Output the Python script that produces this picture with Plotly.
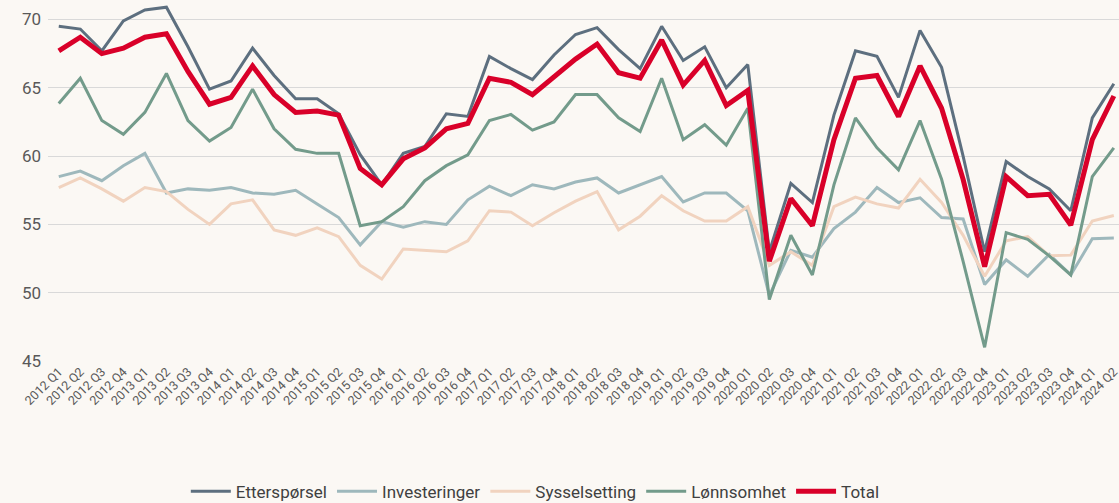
import plotly.graph_objects as go

quarters = [f"{y} Q{q}" for y in range(2012, 2025) for q in range(1, 5)][:50]

ettersporsel = [69.5, 69.3, 67.7, 69.9, 70.7, 70.9, 68.0, 64.9, 65.5, 67.9,
                65.9, 64.2, 64.2, 63.1, 60.1, 57.9, 60.2, 60.7, 63.1, 62.9,
                67.3, 66.4, 65.6, 67.4, 68.9, 69.4, 67.8, 66.4, 69.5, 67.0,
                68.0, 65.0, 66.7, 53.0, 58.0, 56.6, 63.0, 67.7, 67.3, 64.3,
                69.2, 66.5, 60.0, 53.0, 59.6, 58.5, 57.6, 56.0, 62.8, 65.3]
investeringer = [58.5, 58.9, 58.2, 59.3, 60.2, 57.3, 57.6, 57.5, 57.7, 57.3,
                 57.2, 57.5, 56.5, 55.5, 53.5, 55.2, 54.8, 55.2, 55.0, 56.8,
                 57.8, 57.1, 57.9, 57.6, 58.1, 58.4, 57.3, 57.9, 58.5, 56.65,
                 57.3, 57.3, 56.0, 49.8, 53.1, 52.6, 54.7, 55.9, 57.7, 56.6,
                 56.95, 55.5, 55.4, 50.6, 52.4, 51.2, 52.8, 51.3, 53.95, 54.0]
sysselsetting = [57.7, 58.4, 57.6, 56.7, 57.7, 57.4, 56.1, 55.0, 56.5, 56.8,
                 54.6, 54.2, 54.75, 54.1, 52.0, 51.0, 53.2, 53.1, 53.0, 53.8,
                 56.0, 55.9, 54.9, 55.85, 56.7, 57.4, 54.6, 55.6, 57.1, 56.0,
                 55.25, 55.25, 56.3, 52.0, 53.0, 52.0, 56.3, 57.0, 56.5, 56.2,
                 58.3, 56.6, 54.2, 51.2, 53.8, 54.1, 52.7, 52.75, 55.25, 55.65]
lonnsomhet = [63.85, 65.7, 62.6, 61.6, 63.2, 66.05, 62.6, 61.1, 62.1, 64.9,
              62.0, 60.5, 60.2, 60.2, 54.9, 55.2, 56.3, 58.2, 59.3, 60.1,
              62.6, 63.05, 61.9, 62.5, 64.5, 64.5, 62.8, 61.8, 65.7, 61.2,
              62.3, 60.8, 63.5, 49.5, 54.2, 51.3, 57.9, 62.8, 60.6, 59.0,
              62.6, 58.3, 52.3, 46.0, 54.4, 53.9, 52.7, 51.3, 58.5, 60.6]
total = [67.7, 68.7, 67.5, 67.9, 68.7, 68.95, 66.2, 63.8, 64.3, 66.6,
         64.5, 63.2, 63.3, 63.0, 59.1, 57.9, 59.8, 60.6, 62.0, 62.4,
         65.7, 65.4, 64.5, 65.85, 67.1, 68.2, 66.1, 65.7, 68.5, 65.2,
         67.0, 63.7, 64.8, 52.3, 56.9, 54.9, 61.2, 65.7, 65.9, 62.9,
         66.6, 63.5, 58.3, 51.9, 58.5, 57.1, 57.2, 54.95, 61.2, 64.4]

series = [
    ("Etterspørsel", ettersporsel, "#5D6F7F", 3),
    ("Investeringer", investeringer, "#9EB8BC", 3),
    ("Sysselsetting", sysselsetting, "#F1D3BF", 3),
    ("Lønnsomhet", lonnsomhet, "#739B8B", 3),
    ("Total", total, "#D90029", 5),
]

x = list(range(len(quarters)))
fig = go.Figure()
for name, vals, color, w in series:
    fig.add_trace(go.Scatter(x=x, y=vals, name=name, mode="lines",
                             line=dict(color=color, width=w)))

font_family = "Liberation Sans Narrow, Roboto, Liberation Sans, sans-serif"
fig.update_layout(
    width=1119, height=503,
    paper_bgcolor="#FBF8F4", plot_bgcolor="#FBF8F4",
    margin=dict(l=48, r=0, t=2, b=142, autoexpand=False),
    font=dict(family=font_family, color="#595959"),
    showlegend=True,
    legend=dict(orientation="h", x=0.455, xanchor="center", y=-0.364, yanchor="middle",
                font=dict(size=17, color="#404040"), itemwidth=40,
                bgcolor="rgba(0,0,0,0)"),
    xaxis=dict(range=[-0.5, 49.24], tickvals=x, ticktext=quarters, tickangle=-45,
               tickfont=dict(size=12.5, color="#595959"), showgrid=False,
               zeroline=False, showline=False, ticks="", automargin=False,
               ticklabeloverflow="allow"),
    yaxis=dict(range=[45, 71.28], tickvals=[45, 50, 55, 60, 65, 70],
               tickfont=dict(size=17, color="#595959"), showgrid=True,
               gridcolor="#D9D9D9", gridwidth=1, zeroline=False, showline=False,
               ticks="", ticklabelstandoff=6, automargin=False),
)

fig.write_html("out.html", config={"displayModeBar": False},
               post_script="document.body.style.margin='0';document.body.style.overflow='hidden';")
